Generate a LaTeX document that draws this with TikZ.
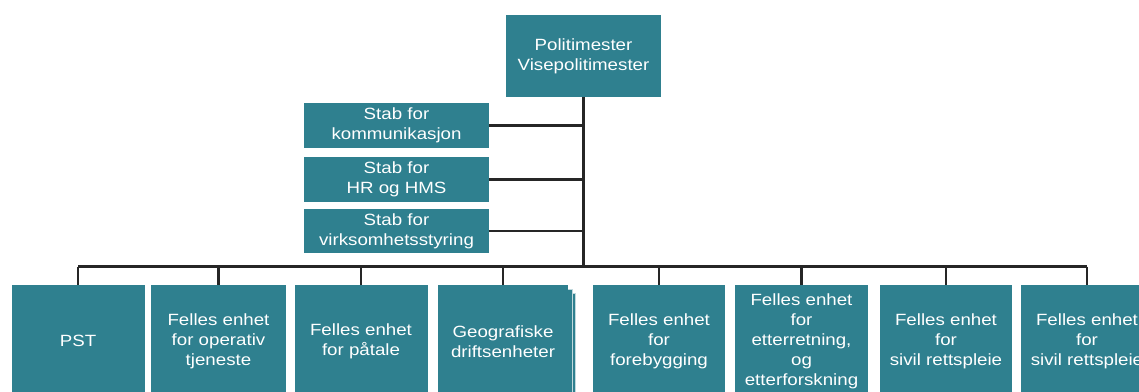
\documentclass[tikz,border=0pt]{standalone}
\usepackage{fontspec}
\setmainfont[FakeStretch=1.15]{Liberation Sans}
\definecolor{teal1}{RGB}{47,128,143}
\begin{document}
\begin{tikzpicture}[x=0.75pt,y=-0.75pt,
  box/.style={fill=teal1,draw=none,text=white,align=center,inner sep=0pt,
    font=\fontsize{12.2pt}{15pt}\selectfont},
  line/.style={draw=black!85,line width=1.6pt}]
\useasboundingbox (0,0) rectangle (1139,392);
\clip (0,0) rectangle (1139,392);
% top
\node[box,minimum width={155*0.75pt},minimum height={82*0.75pt}] (top) at (583.5,56) {Politimester\\Visepolitimester};
% staff
\tikzset{staff/.style={box,minimum width={185*0.75pt},minimum height={45*0.75pt}}}
\node[staff] (s1) at (396.5,125.5) {Stab for\\kommunikasjon};
\node[staff] (s2) at (396.5,179.5) {Stab for\\HR og HMS};
\node[staff,minimum height={44*0.75pt}] (s3) at (396.5,231) {Stab for\\virksomhetsstyring};
% bottom units
\tikzset{unit/.style={box,minimum height={112*0.75pt},anchor=north}}
\node[unit,minimum width={133*0.75pt}] (u1) at (78,285) {PST};
\node[unit,minimum width={135*0.75pt}] (u2) at (218.5,285) {Felles enhet\\for operativ\\tjeneste};
\node[unit,minimum width={133*0.75pt}] (u3) at (361,285) {Felles enhet\\for påtale};
% stacked layers for geografiske
\fill[teal1,draw=white!70!teal1,line width=0.6pt] (444,293) rectangle (575.5,400);
\fill[teal1,draw=white!70!teal1,line width=0.6pt] (441,289.5) rectangle (572,400);
\node[unit,minimum width={130.5*0.75pt}] (u4) at (503,285) {Geografiske\\driftsenheter};
\node[unit,minimum width={132*0.75pt}] (u5) at (659,285) {Felles enhet\\for\\forebygging};
\node[unit,minimum width={133*0.75pt}] (u6) at (801.5,285) {Felles enhet\\for\\etterretning,\\og\\etterforskning};
\node[unit,minimum width={132*0.75pt}] (u7) at (946,285) {Felles enhet\\for\\sivil rettspleie};
\node[unit,minimum width={132*0.75pt}] (u8) at (1087,285) {Felles enhet\\for\\sivil rettspleie};
% connectors
\coordinate (bus) at (583.5,266.5);
\draw[line] (top.south) -- (bus);
\draw[line] (s1.east) -- (s1.east -| top.south);
\draw[line] (s2.east) -- (s2.east -| top.south);
\draw[line] (s3.east) -- (s3.east -| top.south);
\draw[line] (bus -| u1.north) -- (bus -| u8.north);
\foreach \u in {u1,u2,u3,u4,u5,u6,u7,u8}
  \draw[line] (bus -| \u.north) -- (\u.north);
\end{tikzpicture}
\end{document}
